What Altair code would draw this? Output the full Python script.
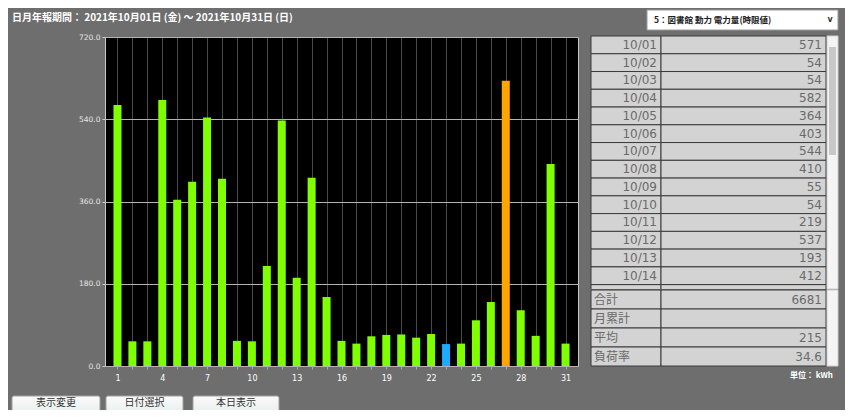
import altair as alt
import pandas as pd

# ---------------- data ----------------
days = list(range(1, 32))
kwh = [571, 54, 54, 582, 364, 403, 544, 410, 55, 54, 219, 537, 193, 412, 151,
       55, 49, 65, 68, 69, 62, 70, 48, 49, 100, 140, 624, 122, 66, 442, 49]
selected_day = 23
y_ticks = [0, 180, 360, 540, 720]

table_dates = ["10/01", "10/02", "10/03", "10/04", "10/05", "10/06", "10/07", "10/08",
               "10/09", "10/10", "10/11", "10/12", "10/13", "10/14", "10/15"]
table_values = ["571", "54", "54", "582", "364", "403", "544", "410",
                "55", "54", "219", "537", "193", "412", "151"]
summary_labels = ["合計", "月累計", "平均", "負荷率"]
summary_values = ["6681", "", "215", "34.6"]

header_text = "日月年報期間：  2021年10月01日 (金) ～ 2021年10月31日 (日)"
select_text = "5：図書館 動力 電力量(時限値)"
unit_text = "単位： kWh"
button_labels = ["表示変更", "日付選択", "本日表示"]

# ---------------- layout ----------------
W, H = 473, 329
BG = "#6e6e6e"
JP = "Noto Sans CJK JP"
one = pd.DataFrame({"k": [0]})

df = pd.DataFrame({"day": days, "kwh": kwh})
mx = max(kwh)
df["status"] = ["max" if v == mx else ("sel" if d == selected_day else "normal")
                for d, v in zip(days, kwh)]

bars = alt.Chart(df).mark_bar(width=8).encode(
    x=alt.X("day:Q",
            scale=alt.Scale(domain=[0.5, 31.5], nice=False, zero=False),
            axis=alt.Axis(values=days, title=None, grid=True, gridColor="#4a4a4a",
                          gridWidth=1, domain=False, tickSize=3, tickColor="#aaaaaa",
                          labelExpr="(datum.value - 1) % 3 == 0 ? datum.label : ''",
                          labelColor="#ffffff", labelFontSize=8, labelFont="DejaVu Sans",
                          labelPadding=5)),
    y=alt.Y("kwh:Q",
            scale=alt.Scale(domain=[0, 720], nice=False),
            axis=alt.Axis(values=y_ticks, format=".1f", title=None, grid=True,
                          gridColor="#b4b4b4", gridWidth=1, domain=False, tickSize=3,
                          tickColor="#cccccc", labelColor="#e6e6e6", labelFontSize=7.5,
                          labelFont="DejaVu Sans", labelPadding=2)),
    color=alt.Color("status:N",
                    scale=alt.Scale(domain=["normal", "sel", "max"],
                                    range=["#80ff00", "#1eaaff", "#ffa500"]),
                    legend=None),
)

# ---------------- table ----------------
ROW = 17.76
tdf = pd.DataFrame({"date": table_dates, "val": table_values})
vis = tdf.iloc[:14]  # the 15th row is hidden under the summary block
ty = alt.Y("date:O", scale=alt.Scale(domain=table_dates, range=[-1, -1 + 15 * ROW],
                                     paddingInner=0, paddingOuter=0), axis=None)
cell = dict(fill="#d3d3d3", stroke="#3a3a3a", strokeWidth=1)
t_left = alt.Chart(tdf).mark_rect(**cell).encode(y=ty, x=alt.value(486), x2=alt.value(556))
t_right = alt.Chart(tdf).mark_rect(**cell).encode(y=ty, x=alt.value(556), x2=alt.value(721))
t_date = alt.Chart(vis).mark_text(align="right", baseline="middle", font="DejaVu Sans",
                                  fontSize=12, color="#6a6a6a").encode(
    y=ty, x=alt.value(552), text="date:N")
t_val = alt.Chart(vis).mark_text(align="right", baseline="middle", font="DejaVu Sans",
                                 fontSize=12, color="#6a6a6a").encode(
    y=ty, x=alt.value(717), text="val:N")

sdf = pd.DataFrame({"lab": summary_labels, "val": summary_values})
sy = alt.Y("lab:O", scale=alt.Scale(domain=summary_labels, range=[253, 329],
                                    paddingInner=0, paddingOuter=0), axis=None)
s_bg = alt.Chart(one).mark_rect(fill=BG).encode(
    x=alt.value(480), x2=alt.value(740), y=alt.value(252), y2=alt.value(332))
s_left = alt.Chart(sdf).mark_rect(**cell).encode(y=sy, x=alt.value(486), x2=alt.value(556))
s_right = alt.Chart(sdf).mark_rect(**cell).encode(y=sy, x=alt.value(556), x2=alt.value(721))
s_lab = alt.Chart(sdf).mark_text(align="left", baseline="middle", font=JP,
                                 fontSize=12, color="#6a6a6a").encode(
    y=sy, x=alt.value(489), text="lab:N")
s_val = alt.Chart(sdf).mark_text(align="right", baseline="middle", font="DejaVu Sans",
                                 fontSize=12, color="#6a6a6a").encode(
    y=sy, x=alt.value(717), text="val:N")

# scrollbars
sb1 = alt.Chart(one).mark_rect(fill="#f4f4f4", stroke="#cfcfcf").encode(
    x=alt.value(722), x2=alt.value(733), y=alt.value(-1), y2=alt.value(252))
thumb = alt.Chart(one).mark_rect(fill="#c8c8c8").encode(
    x=alt.value(724), x2=alt.value(731), y=alt.value(10), y2=alt.value(118))
sb2 = alt.Chart(one).mark_rect(fill="#f4f4f4", stroke="#cfcfcf").encode(
    x=alt.value(722), x2=alt.value(733), y=alt.value(253), y2=alt.value(329))

# ---------------- header / controls ----------------
header = alt.Chart(pd.DataFrame({"t": [header_text]})).mark_text(
    align="left", baseline="middle", font=JP, fontWeight="bold", fontSize=10,
    color="#ffffff").encode(x=alt.value(-93), y=alt.value(-19), text="t:N")

sel_box = alt.Chart(one).mark_rect(fill="#ffffff", stroke="#9a9a9a").encode(
    x=alt.value(542), x2=alt.value(733), y=alt.value(-27), y2=alt.value(-7))
sel_txt = alt.Chart(pd.DataFrame({"t": [select_text]})).mark_text(
    align="left", baseline="middle", font=JP, fontWeight="bold", fontSize=8.5,
    color="#222222").encode(x=alt.value(549), y=alt.value(-17), text="t:N")
sel_arrow = alt.Chart(pd.DataFrame({"t": ["v"]})).mark_text(
    align="center", baseline="middle", font="DejaVu Sans", fontWeight="bold", fontSize=8,
    color="#333333").encode(x=alt.value(725), y=alt.value(-17), text="t:N")

unit = alt.Chart(pd.DataFrame({"t": [unit_text]})).mark_text(
    align="right", baseline="middle", font=JP, fontWeight="bold", fontSize=8,
    color="#ffffff").encode(x=alt.value(728), y=alt.value(339), text="t:N")

grad = alt.Gradient(gradient="linear",
                    stops=[alt.GradientStop(color="#fbfbfb", offset=0),
                           alt.GradientStop(color="#d5e3df", offset=1)],
                    x1=0, x2=0, y1=0, y2=1)
btn_layers = []
for lab, (bx1, bx2) in zip(button_labels, [(-93, -5), (1, 78), (88, 174)]):
    btn_layers.append(alt.Chart(one).mark_rect(fill=grad, stroke="#a0a0a0",
                                               cornerRadius=2).encode(
        x=alt.value(bx1), x2=alt.value(bx2), y=alt.value(359), y2=alt.value(392)))
    btn_layers.append(alt.Chart(pd.DataFrame({"t": [lab]})).mark_text(
        align="center", baseline="middle", font=JP, fontSize=10, color="#333333").encode(
        x=alt.value((bx1 + bx2) / 2), y=alt.value(365.5), text="t:N"))

chart = alt.layer(
    bars, t_left, t_right, t_date, t_val, s_bg, s_left, s_right, s_lab, s_val,
    sb1, thumb, sb2, header, sel_box, sel_txt, sel_arrow, unit, *btn_layers
).resolve_scale(y="independent").properties(
    width=W, height=H,
    autosize=alt.AutoSizeParams(type="none"),
    padding={"left": 97, "top": 29, "right": 267, "bottom": 44},
    background=BG,
).configure_view(fill="#000000", stroke="#c8c8c8", strokeWidth=1)

chart.save("out.html", embed_options={"renderer": "svg", "actions": False})
